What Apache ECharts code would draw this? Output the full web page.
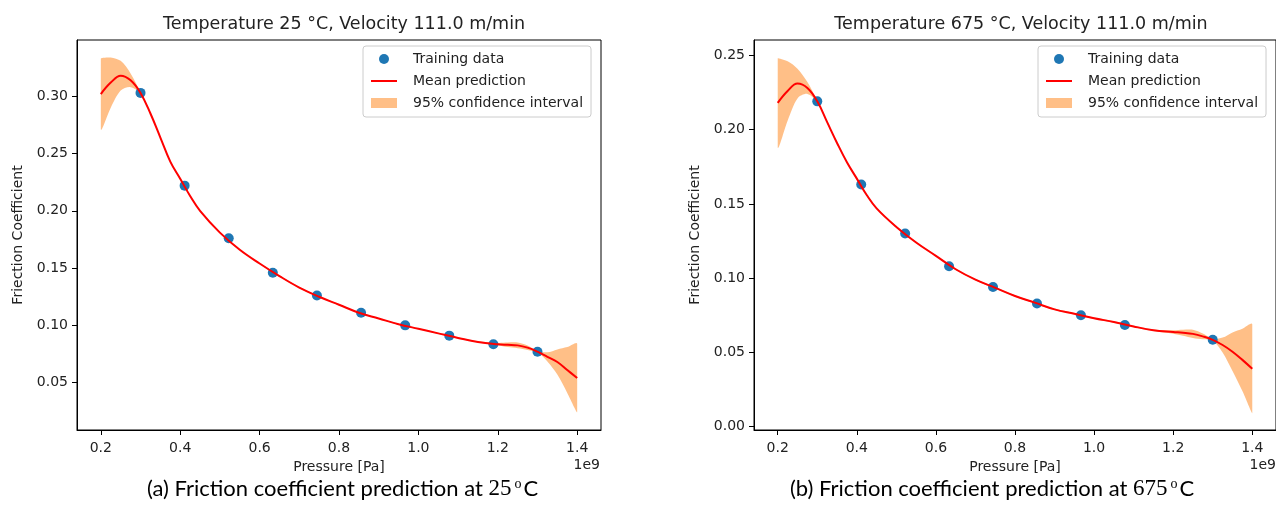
<!DOCTYPE html>
<html><head><meta charset="utf-8">
<script src="https://cdn.jsdelivr.net/npm/echarts@6/dist/echarts.min.js"></script>
<style>html,body{margin:0;padding:0;background:#fff}#c{width:1276px;height:526px}</style>
</head><body><div id="c"></div><script>
// ---- data ----
const trainP = [0.3, 0.4111, 0.5222, 0.6333, 0.7444, 0.8556, 0.9667, 1.0778, 1.1889, 1.3];
const trainA = [0.303, 0.222, 0.176, 0.146, 0.126, 0.111, 0.100, 0.091, 0.0835, 0.077];
const trainB = [0.219, 0.163, 0.130, 0.108, 0.094, 0.083, 0.075, 0.0685, null, 0.0585];
const gridP = [0.2,0.225,0.25,0.275,0.3,0.325,0.35,0.375,0.4,0.425,0.45,0.5,0.55,0.6,0.65,0.7,0.75,0.8,0.85,0.9,0.95,1.0,1.05,1.1,1.15,1.2,1.225,1.25,1.275,1.3,1.325,1.35,1.375,1.4];
const meanA = [0.302,0.312,0.318,0.314,0.303,0.285,0.264,0.243,0.228,0.213,0.200,0.181,0.166,0.154,0.143,0.133,0.125,0.118,0.111,0.106,0.101,0.097,0.093,0.089,0.0855,0.0835,0.083,0.0825,0.0805,0.077,0.0725,0.068,0.061,0.054];
const ciA   = [0.031,0.022,0.013,0.006,0.0005,0.0005,0.0005,0.0005,0.0005,0.0005,0.0005,0.0005,0.0005,0.0005,0.0005,0.0005,0.0005,0.0005,0.0005,0.0005,0.0005,0.0005,0.0005,0.0005,0.0005,0.0012,0.002,0.0025,0.002,0.0006,0.004,0.011,0.020,0.030];
const meanB = [0.218,0.226,0.231,0.228,0.219,0.205,0.191,0.178,0.167,0.156,0.147,0.1345,0.124,0.115,0.106,0.099,0.0935,0.088,0.0835,0.079,0.076,0.073,0.0705,0.0675,0.065,0.0638,0.0633,0.0625,0.0608,0.0585,0.055,0.0505,0.045,0.039];
const ciB   = [0.030,0.020,0.010,0.004,0.0005,0.0005,0.0005,0.0005,0.0005,0.0005,0.0005,0.0005,0.0005,0.0005,0.0005,0.0005,0.0005,0.0005,0.0005,0.0005,0.0005,0.0005,0.0005,0.0005,0.0005,0.0012,0.002,0.0028,0.002,0.0006,0.005,0.013,0.021,0.030];
const xTicks = [0.2,0.4,0.6,0.8,1.0,1.2,1.4];
const yTicksA = [0.05,0.10,0.15,0.20,0.25,0.30,0.35];
const yTicksB = [0.00,0.05,0.10,0.15,0.20,0.25];
const titles = ['Temperature 25 °C, Velocity 111.0 m/min','Temperature 675 °C, Velocity 111.0 m/min'];
const names = ['Training data','Mean prediction','95% confidence interval'];

const FONT = 'DejaVu Sans';
const BLUE = '#1f77b4', RED = '#ff0000', ORANGE = '#ffbf87';

function xAxis(i){
  return {type:'value', gridIndex:i, min:0.14, max:1.46, z:5,
    name:'Pressure [Pa]', nameLocation:'middle', nameGap:30,
    nameTextStyle:{fontFamily:FONT,fontSize:14,color:'#222'},
    axisLine:{onZero:false, lineStyle:{color:'#000',width:1}},
    axisTick:{length:5, lineStyle:{color:'#000'}, customValues:xTicks},
    axisLabel:{customValues:xTicks, formatter:v=>v.toFixed(1), fontFamily:FONT, fontSize:14, color:'#222', margin:11},
    splitLine:{show:false}};
}
function yAxis(i, min, max, ticks){
  return {type:'value', gridIndex:i, min:min, max:max, z:5,
    name:'Friection Coefficient', nameLocation:'middle', nameGap:52,
    nameTextStyle:{fontFamily:FONT,fontSize:14,color:'#222'},
    axisLine:{show:true, onZero:false, lineStyle:{color:'#000',width:1}},
    axisTick:{show:true, length:5, lineStyle:{color:'#000'}, customValues:ticks},
    axisLabel:{customValues:ticks, formatter:v=>v.toFixed(2), fontFamily:FONT, fontSize:14, color:'#222', margin:9},
    splitLine:{show:false}};
}
function series(i, train, mean, ci){
  return [
    {type:'custom', name:names[2], xAxisIndex:i, yAxisIndex:i, coordinateSystem:'cartesian2d',
      data:[[gridP[0], mean[0]]], itemStyle:{color:ORANGE}, z:1, silent:true,
      renderItem:(params, api)=>{
        const up = gridP.map((p,k)=>api.coord([p, mean[k]+ci[k]]));
        const lo = gridP.map((p,k)=>api.coord([p, mean[k]-ci[k]])).reverse();
        const pts = up.concat(lo);
        const xs = pts.map(q=>q[0]), ys = pts.map(q=>q[1]);
        return {type:'polygon', shape:{points:pts, smooth:0.3,
          smoothConstraint:[[Math.min(...xs),Math.min(...ys)],[Math.max(...xs),Math.max(...ys)]]},
          style:{fill:ORANGE}};
      }},
    {type:'scatter', name:names[0], xAxisIndex:i, yAxisIndex:i,
      data:trainP.map((p,k)=>train[k]==null?null:[p, train[k]]).filter(d=>d),
      symbolSize:10, itemStyle:{color:BLUE, opacity:1}, z:2},
    {type:'line', name:names[1], xAxisIndex:i, yAxisIndex:i, data:gridP.map((p,k)=>[p, mean[k]]),
      smooth:0.4, symbol:'none', showSymbol:false, lineStyle:{color:RED, width:2}, itemStyle:{color:RED}, z:3}
  ];
}
function legend(left){
  return {left:left, top:46, orient:'vertical', padding:[6,8,7,8], itemGap:8,
    itemWidth:26, itemHeight:10, backgroundColor:'#fff', borderColor:'#cccccc', borderWidth:1, borderRadius:3,
    textStyle:{fontFamily:FONT, fontSize:14, color:'#222', padding:[0,0,0,11]},
    data:[{name:names[0], icon:'circle'},
          {name:names[1], icon:'path://M0,0 L26,0 L26,2 L0,2 Z', itemStyle:{color:RED}},
          {name:names[2], icon:'rect'}]};
}
const cap = {
  t:{fontFamily:'Lato', fontSize:22, color:'#222'},
  m:{fontFamily:'Liberation Serif', fontSize:23, color:'#222'},
  s:{fontFamily:'Liberation Serif', fontSize:14, color:'#222', verticalAlign:'top', padding:[0,2,9,3]}
};
const option = {
  animation:false,
  backgroundColor:'#fff',
  title:[
    {text:titles[0], left:339, top:10, textAlign:'center', textStyle:{fontFamily:FONT, fontSize:17.5, fontWeight:'normal', color:'#222'}},
    {text:titles[1], left:1016, top:10, textAlign:'center', textStyle:{fontFamily:FONT, fontSize:17.5, fontWeight:'normal', color:'#222'}}
  ],
  grid:[
    {left:77, top:40, width:524, height:390, show:true, borderColor:'#000', borderWidth:1, backgroundColor:'transparent'},
    {left:754, top:40, width:525, height:390, show:true, borderColor:'#000', borderWidth:1, backgroundColor:'transparent'}
  ],
  xAxis:[xAxis(0), xAxis(1)],
  yAxis:[yAxis(0, 0.0086, 0.3492, yTicksA), yAxis(1, -0.0022, 0.2603, yTicksB)],
  legend:[legend(363), legend(1038)],
  series:[...series(0, trainA, meanA, ciA), ...series(1, trainB, meanB, ciB)],
  graphic:[
    {type:'text', right:676, top:458, style:{text:'1e9', font:'14px "DejaVu Sans"', fill:'#222'}},
    {type:'text', right:0, top:458, style:{text:'1e9', font:'14px "DejaVu Sans"', fill:'#222'}},
    {type:'text', left:147, top:477, style:{text:'{t|(a) Friction coefficient prediction at }{m|25}{s|o}{t|C}', rich:cap}},
    {type:'text', left:790, top:477, style:{text:'{t|(b) Friction coefficient prediction at }{m|675}{s|o}{t|C}', rich:cap}}
  ]
};
const chart = echarts.init(document.getElementById('c'), null, {renderer:'canvas'});
chart.setOption(option);
</script></body></html>
